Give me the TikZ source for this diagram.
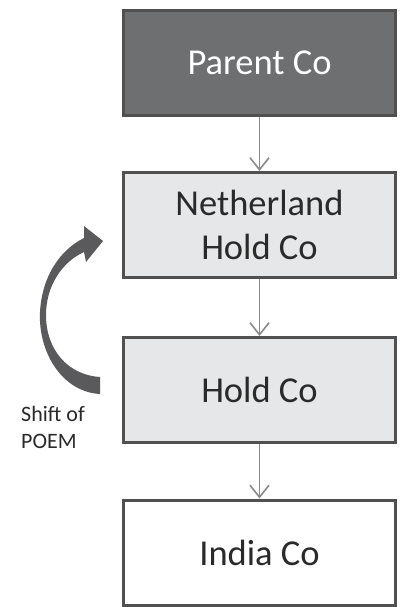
\documentclass[tikz,border=0pt]{standalone}
\usepackage{fontspec}
\setmainfont{Carlito}
\usetikzlibrary{arrows.meta}
\definecolor{boxline}{HTML}{505050}
\definecolor{darkfill}{HTML}{6E6F71}
\definecolor{lightfill}{HTML}{E6E7E8}
\definecolor{linkgrey}{HTML}{8A8A8A}
\definecolor{bendgrey}{HTML}{5A5A5C}
\definecolor{textgrey}{HTML}{2A2A2A}
\begin{document}
\begin{tikzpicture}[x=1pt,y=-1pt,
  company/.style={draw=boxline, line width=3pt, minimum width=272pt, minimum height=105pt,
    align=center, inner sep=0pt, font=\fontsize{36.5}{44}\selectfont, text=textgrey},
  link/.style={draw=linkgrey, line width=1.6pt, -{Straight Barb[length=12pt,width=19pt,line width=1.6pt]}}]
  \useasboundingbox (0,0) rectangle (401,607);

  % ownership chain
  \node[company, fill=darkfill, text=white] (parent) at (259.5,63) {Parent Co};
  \node[company, fill=lightfill] (neth) at (259.5,225) {Netherland\\Hold Co};
  \node[company, fill=lightfill] (hold) at (259.5,390) {Hold Co};
  \node[company, fill=white] (india) at (259.5,552.5) {India Co};

  \draw[link] (parent) -- (neth);
  \draw[link] (neth) -- (hold);
  \draw[link] (hold) -- (india);

  % curved arrow for the POEM shift
  \fill[bendgrey] (100,394) .. controls (62,392) and (38,352) .. (40,312)
    .. controls (42,276) and (60,250) .. (84,238)
    -- (84,226) -- (103,241) -- (86,262) -- (84,252)
    .. controls (62,262) and (46,286) .. (46,315)
    .. controls (46,350) and (68,375) .. (100,377) -- cycle;

  \node[align=left, inner sep=0pt, font=\fontsize{22}{27}\selectfont, text=textgrey, anchor=north west]
    (poem) at (21,406) {Shift of\\POEM};
\end{tikzpicture}
\end{document}
